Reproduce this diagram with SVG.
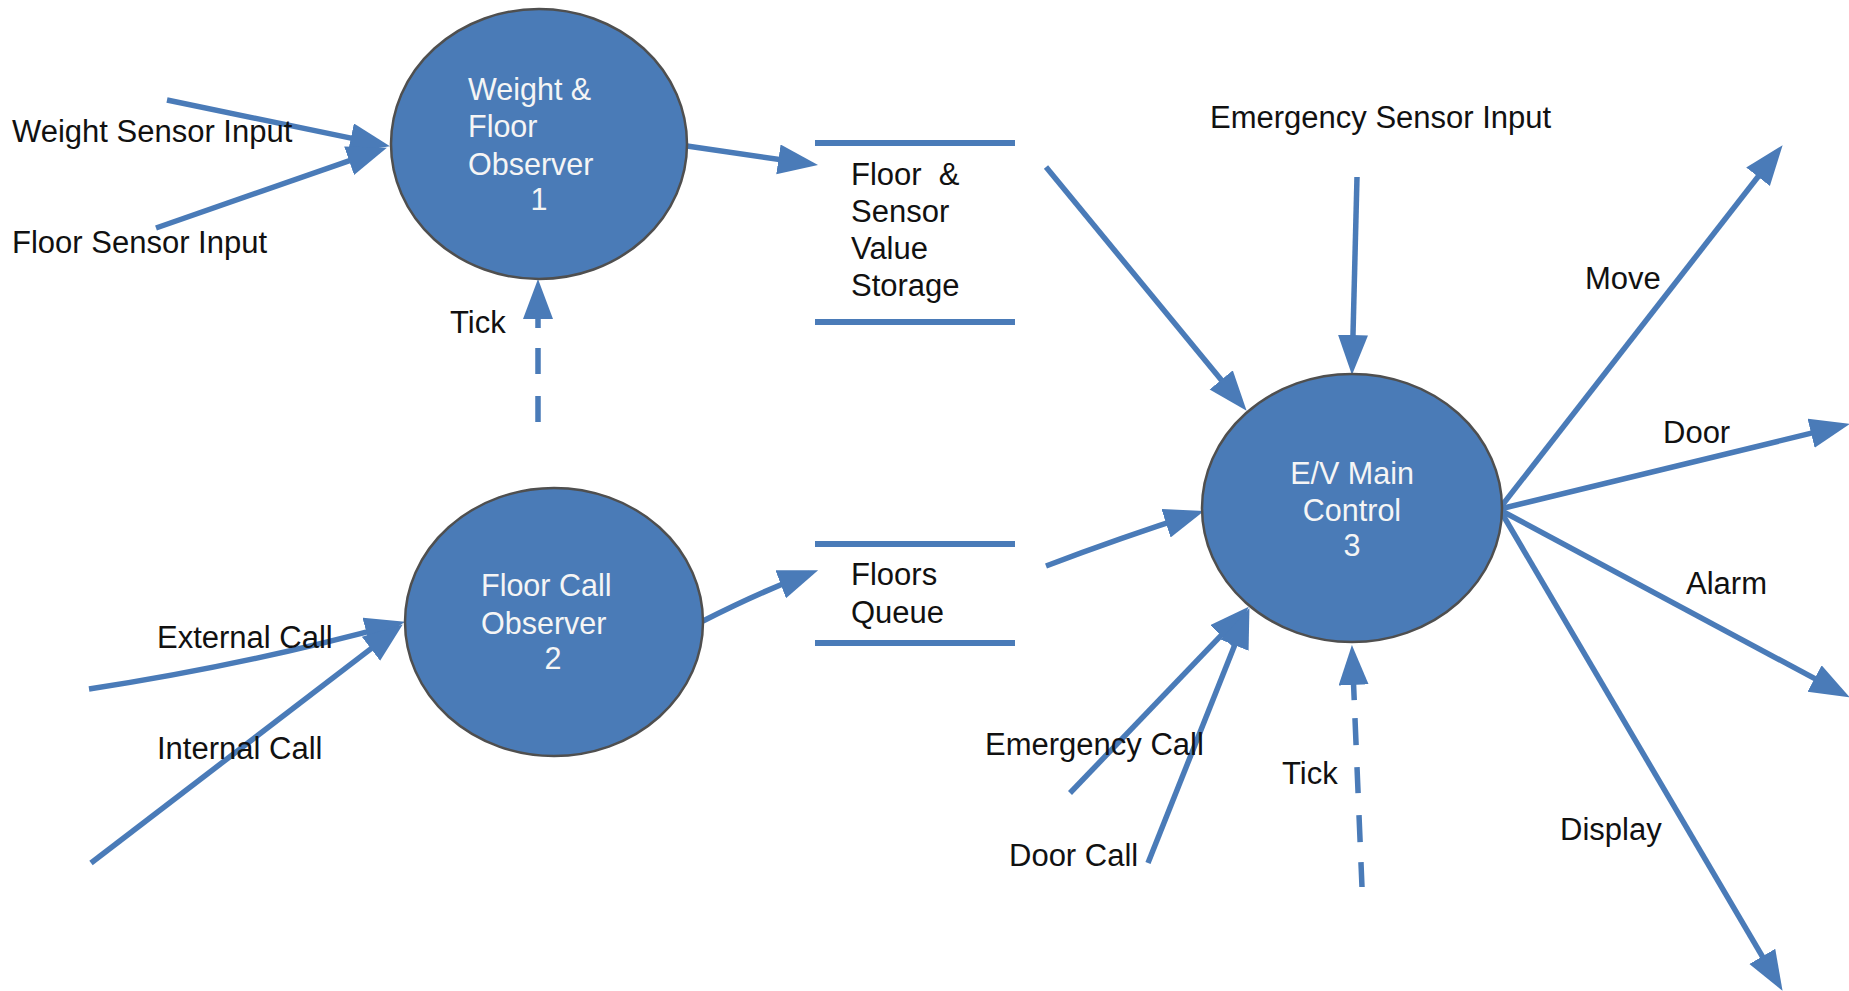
<svg xmlns="http://www.w3.org/2000/svg" width="1849" height="991" viewBox="0 0 1849 991">
  <style>
    .flow { fill: none; stroke: #4a7bb8; stroke-width: 5.5; marker-end: url(#head); }
    .dash { fill: none; stroke: #4a7bb8; stroke-width: 5.5; marker-end: url(#head); }
    .store { stroke: #4a7bb8; stroke-width: 6; }
    .proc { fill: #4a7bb7; stroke: #4f4f4f; stroke-width: 2.5; }
    .ptxt { font-family: "Liberation Sans", Arial, sans-serif; font-size: 30.5px; fill: #f5f5f5; }
    .lbl { font-family: "Liberation Sans", Arial, sans-serif; font-size: 31px; fill: #111111; white-space: pre; }
  </style>
  <defs>
    <marker id="head" markerUnits="userSpaceOnUse" markerWidth="42" markerHeight="32" refX="31" refY="15" orient="auto">
      <path d="M0,0 L40,15 L0,30 z" fill="#4a7bb8"/>
    </marker>
  </defs>
  <rect width="1849" height="991" fill="#ffffff"/>

  <!-- data flows -->
  <g id="connectors">
    <path class="flow" d="M167,100 L381.2,144.4"/>
    <path class="flow" d="M156,228 L378.4,150.6"/>
    <path class="flow" d="M687,146 L809.1,163.8"/>
    <path class="dash" d="M538,422 L538,288" stroke-dasharray="26 22 26 20 100"/>
    <path class="flow" d="M89,689 Q246,665 396.3,624.1"/>
    <path class="flow" d="M91,863 L395.6,629.9"/>
    <path class="flow" d="M703,621 Q760,592 809.7,573.3"/>
    <path class="flow" d="M1046,167 L1240.9,403.8"/>
    <path class="flow" d="M1357,177 L1352.2,366"/>
    <path class="flow" d="M1046,566 Q1120,538 1195.5,513.7"/>
    <path class="flow" d="M1070,793 L1242.5,613.2"/>
    <path class="flow" d="M1148,863 L1246.1,616.4"/>
    <path class="dash" d="M1362,887 L1352.3,654" stroke-dasharray="25 20 27 22 26 22 27 18 100"/>
    <path class="flow" d="M1500,508 L1777.1,152.3"/>
    <path class="flow" d="M1500,509 L1841.2,425.9"/>
    <path class="flow" d="M1500,510 L1841.9,693.2"/>
    <path class="flow" d="M1500,510 L1778,983.1"/>
  </g>

  <!-- flow labels -->
  <g id="flow-labels">
    <text class="lbl" x="12" y="142">Weight Sensor Input</text>
    <text class="lbl" x="12" y="253">Floor Sensor Input</text>
    <text class="lbl" x="450" y="333">Tick</text>
    <text class="lbl" x="157" y="648">External Call</text>
    <text class="lbl" x="157" y="759">Internal Call</text>
    <text class="lbl" x="1210" y="128">Emergency Sensor Input</text>
    <text class="lbl" x="1585" y="289">Move</text>
    <text class="lbl" x="1663" y="443">Door</text>
    <text class="lbl" x="1686" y="594">Alarm</text>
    <text class="lbl" x="1560" y="840">Display</text>
    <text class="lbl" x="985" y="755">Emergency Call</text>
    <text class="lbl" x="1009" y="866">Door Call</text>
    <text class="lbl" x="1282" y="784">Tick</text>
  </g>

  <!-- process 1 -->
  <g id="weight-floor-observer">
    <ellipse class="proc" cx="539" cy="144" rx="148" ry="135"/>
    <text class="ptxt" x="468" y="100">Weight &amp;</text>
    <text class="ptxt" x="468" y="137">Floor</text>
    <text class="ptxt" x="468" y="175">Observer</text>
    <text class="ptxt" x="539" y="210" text-anchor="middle">1</text>
  </g>

  <!-- process 2 -->
  <g id="floor-call-observer">
    <ellipse class="proc" cx="554" cy="622" rx="149" ry="134"/>
    <text class="ptxt" x="481" y="596">Floor Call</text>
    <text class="ptxt" x="481" y="634">Observer</text>
    <text class="ptxt" x="553" y="669" text-anchor="middle">2</text>
  </g>

  <!-- process 3 -->
  <g id="ev-main-control">
    <ellipse class="proc" cx="1352" cy="508" rx="150" ry="134"/>
    <text class="ptxt" x="1352" y="484" text-anchor="middle">E/V Main</text>
    <text class="ptxt" x="1352" y="521" text-anchor="middle">Control</text>
    <text class="ptxt" x="1352" y="556" text-anchor="middle">3</text>
  </g>

  <!-- data store: sensor values -->
  <g id="sensor-value-storage">
    <line class="store" x1="815" y1="143" x2="1015" y2="143"/>
    <line class="store" x1="815" y1="322" x2="1015" y2="322"/>
    <text class="lbl" x="851" y="185">Floor  &amp;</text>
    <text class="lbl" x="851" y="222">Sensor</text>
    <text class="lbl" x="851" y="259">Value</text>
    <text class="lbl" x="851" y="296">Storage</text>
  </g>

  <!-- data store: floors queue -->
  <g id="floors-queue">
    <line class="store" x1="815" y1="544" x2="1015" y2="544"/>
    <line class="store" x1="815" y1="643" x2="1015" y2="643"/>
    <text class="lbl" x="851" y="585">Floors</text>
    <text class="lbl" x="851" y="623">Queue</text>
  </g>
</svg>
